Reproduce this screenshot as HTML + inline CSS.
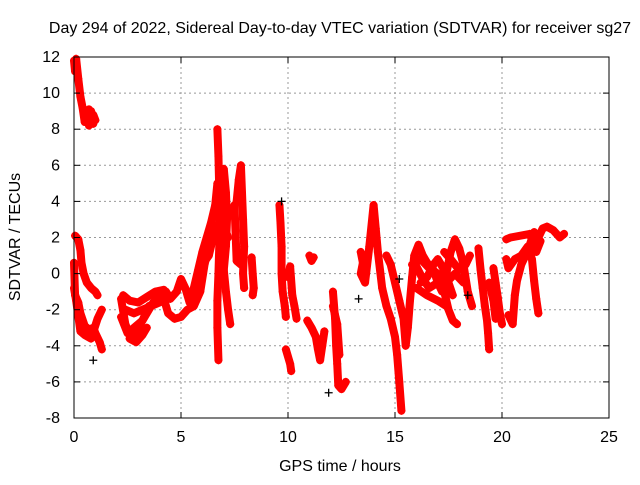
<!DOCTYPE html>
<html><head><meta charset="utf-8"><style>
body{margin:0;background:#fff}
svg text{font-family:"Liberation Sans",sans-serif;font-size:16px;fill:#000}
</style></head><body>
<svg id="c" width="640" height="480">
<text x="340" y="33" text-anchor="middle">Day 294 of 2022, Sidereal Day-to-day VTEC variation (SDTVAR) for receiver sg27</text>
<text x="340" y="471" text-anchor="middle">GPS time / hours</text>
<text transform="translate(20,237) rotate(-90)" text-anchor="middle">SDTVAR / TECUs</text>
<g id="grid"></g><g id="marks"></g><g id="axes"></g>
</svg>
<script>
const xTicks=[0,5,10,15,20,25];
const yTicks=[12,10,8,6,4,2,0,-2,-4,-6,-8];
// each track: list of [hours, TECU] samples
const track1=[[0,11.8],[0.05,11.2],[0.1,11.9],[0.2,10.8],[0.3,9.8],[0.4,9.2],[0.5,8.4],[0.6,8.8],[0.7,9.1],[0.8,8.6],[0.9,8.8],[1.0,8.5]];
const track2=[[0.05,2.1],[0.2,1.9],[0.3,1.3],[0.35,0.6],[0.45,0],[0.6,-0.5],[0.8,-0.8],[1.0,-1.0],[1.1,-1.2]];
const track3=[[0,0.6],[0.05,-1.2],[0.2,-1.6],[0.3,-2.2],[0.5,-2.9],[0.7,-3.1],[0.9,-3.0],[1.0,-3.3],[1.2,-3.8],[1.3,-4.2]];
const track4=[[0,-0.8],[0.1,-1.5],[0.3,-3.2],[0.5,-3.4],[0.8,-3.6],[1.1,-2.5],[1.3,-2.0]];
const track5=[[2.2,-1.4],[2.4,-2.8],[2.6,-3.4],[2.9,-3.5],[3.1,-2.8],[3.4,-2.2],[3.7,-1.6],[4.0,-1.2],[4.3,-1.0],[4.5,-1.4],[4.8,-1.0],[5.0,-0.3],[5.2,-0.8],[5.4,-1.6],[5.6,-0.8],[5.8,0.2],[6.0,1.2],[6.2,2.0],[6.4,2.8],[6.6,3.8],[6.7,5.0]];
const track6=[[2.2,-2.4],[2.5,-3.3],[2.8,-3.0],[3.2,-2.6],[3.5,-1.8],[3.9,-1.6],[4.2,-1.4],[4.4,-2.2],[4.7,-2.5],[5.0,-2.4],[5.3,-2.0],[5.6,-1.8],[5.9,-1.0],[6.1,0.5],[6.3,1.5],[6.5,2.5]];
const track7=[[6.7,8.0],[6.75,6.5],[6.8,4.0],[6.8,2.0],[6.75,0],[6.7,-1.5],[6.7,-3.0],[6.75,-4.8]];
const track8=[[7.0,5.8],[7.1,4.5],[7.15,3.0],[7.1,1.5],[7.0,0.2],[7.1,-1.0],[7.2,-2.0],[7.3,-2.8]];
const track9=[[7.6,4.0],[7.7,5.2],[7.8,6.0],[7.85,4.5],[7.9,3.0],[7.95,1.5],[7.9,0],[7.95,-0.8]];
const track10=[[7.3,3.2],[7.5,3.8],[7.6,0.7],[7.8,0.5]];
const track11=[[8.3,0.9],[8.35,0],[8.4,-0.8],[8.35,-1.2]];
const track12=[[9.6,3.8],[9.65,2.8],[9.7,1.5],[9.7,0],[9.75,-1.0],[9.85,-1.8],[9.9,-2.4]];
const track13=[[10.0,-0.2],[10.1,0.4],[10.2,-1.2],[10.3,-1.8],[10.4,-2.5]];
const track14=[[9.9,-4.2],[10.0,-4.6],[10.1,-5.0],[10.15,-5.4]];
const track15=[[11.0,1.0],[11.1,0.7],[11.2,0.9]];
const track16=[[10.9,-2.6],[11.1,-3.0],[11.3,-3.5],[11.4,-4.2],[11.5,-4.8],[11.6,-4.0],[11.7,-3.2]];
const track17=[[12.1,-1.0],[12.2,-2.5],[12.25,-4.0],[12.3,-5.0],[12.35,-6.2],[12.5,-6.4],[12.7,-6.0]];
const track18=[[12.1,-1.8],[12.3,-2.8],[12.4,-4.5]];
const track19=[[13.4,1.2],[13.5,0.6],[13.4,0],[13.6,-0.5],[13.8,1.5],[14.0,3.8],[14.1,2.5],[14.2,1.2],[14.3,0.2],[14.4,-0.8],[14.6,-1.8],[14.8,-2.5],[15.0,-3.5],[15.1,-4.5],[15.2,-6.0],[15.3,-7.6]];
const track20=[[14.6,1.0],[14.8,0.5],[15.0,-0.5],[15.2,-1.5],[15.4,-2.5],[15.5,-4.0],[15.6,-3.0],[15.7,-1.5],[15.8,-0.2],[15.9,1.0],[16.1,1.6],[16.3,1.0],[16.5,0.6],[16.8,0.2],[17.0,-0.5],[17.2,-1.0],[17.4,0],[17.6,1.2],[17.8,1.9],[18.0,1.4],[18.2,0.5],[18.4,-1.0],[18.6,-1.8]];
const track21=[[16.0,0.4],[16.3,-0.3],[16.6,-0.8],[17.0,-0.5],[17.3,-1.0],[17.5,-2.0],[17.7,-2.6],[17.9,-2.8]];
const track22=[[16.2,-0.5],[16.5,-0.2],[16.8,0.5],[17.0,0.8],[17.3,0.2],[17.5,-0.5],[17.7,-1.2]];
const track23=[[18.9,1.4],[19.0,0.2],[19.1,-0.8],[19.2,-1.8],[19.3,-2.6],[19.35,-3.3],[19.4,-4.2]];
const track24=[[19.6,0.3],[19.7,-0.5],[19.8,-1.3],[19.9,-2.2],[20.0,-2.8]];
const track25=[[20.3,-2.3],[20.5,-2.8],[20.6,-1.2],[20.7,-0.4],[20.9,0.5],[21.1,1.0],[21.3,1.6],[21.5,2.3],[21.7,2.0],[21.9,2.5],[22.1,2.6],[22.4,2.4],[22.7,2.0],[22.9,2.2]];
const track26=[[20.2,0.8],[20.3,0.3],[20.6,0.8],[20.9,1.0],[21.2,1.5],[21.4,0.8],[21.5,-0.4],[21.6,-1.4],[21.7,-2.2]];
const track27=[[20.2,1.9],[20.4,2.0],[21.3,2.2],[21.6,1.2],[21.8,1.8]];
const track28=[[19.4,-0.5],[19.6,-1.5],[19.7,-2.5]];
const track29=[[2.3,-1.2],[2.6,-1.5],[3.0,-1.6],[3.4,-1.3],[3.8,-1.0],[4.2,-0.9]];
const track30=[[2.4,-2.0],[2.8,-2.2],[3.2,-2.0],[3.6,-1.8],[4.0,-1.6]];
const track31=[[2.6,-3.6],[2.9,-3.8],[3.2,-3.4],[3.4,-3.0]];
const track32=[[15.8,0.5],[16.2,0.8],[16.6,0.3],[17.0,0],[17.4,-0.5],[17.8,0],[18.2,-0.5]];
const track33=[[16.0,-0.8],[16.5,-1.2],[17.0,-1.5],[17.4,-1.8]];
const track34=[[17.3,1.2],[17.6,0.8],[18.0,0.2],[18.3,0.5],[18.5,1.0]];
const track35=[[6.0,0.5],[6.3,1.0],[6.6,2.5],[6.9,3.0],[7.2,2.0]];
const track36=[[0.7,8.2],[0.8,9.0],[0.9,8.3]];
const tracks=[track1,track2,track3,track4,track5,track6,track7,track8,track9,track10,track11,track12,track13,track14,track15,track16,track17,track18,track19,track20,track21,track22,track23,track24,track25,track26,track27,track28,track29,track30,track31,track32,track33,track34,track35,track36];
const blackPts=[[0.9,-4.8],[9.7,4.0],[11.9,-6.6],[13.3,-1.4],[15.2,-0.3],[18.4,-1.2]];

const L=74,R=609,T=57,B=418;
const X=t=>L+(t-0)/25*(R-L);
const Y=v=>T+(12-v)/20*(B-T);
const NS="http://www.w3.org/2000/svg";
const g=document.getElementById('grid'),m=document.getElementById('marks'),a=document.getElementById('axes');
function mk(tag,at,p){const e=document.createElementNS(NS,tag);for(const k in at)e.setAttribute(k,at[k]);p.appendChild(e);return e;}
xTicks.forEach(t=>{
 if(t>0&&t<25){const l=mk('line',{x1:X(t),x2:X(t),y1:T,y2:B,stroke:'#999','stroke-dasharray':'2,3'},g);
 
 }
 mk('line',{x1:X(t),x2:X(t),y1:B,y2:B-6,stroke:'#000'},a);
 mk('line',{x1:X(t),x2:X(t),y1:T,y2:T+6,stroke:'#000'},a);
 const tx=mk('text',{x:X(t),y:B+24,'text-anchor':'middle'},a);tx.textContent=t;
 
 
});
yTicks.forEach(v=>{
 if(v<12&&v>-8){const l=mk('line',{x1:L,x2:R,y1:Y(v),y2:Y(v),stroke:'#999','stroke-dasharray':'2,3'},g);
 
 }
 mk('line',{x1:L,x2:L+6,y1:Y(v),y2:Y(v),stroke:'#000'},a);
 mk('line',{x1:R,x2:R-6,y1:Y(v),y2:Y(v),stroke:'#000'},a);
 const tx=mk('text',{x:L-14,y:Y(v)+5,'text-anchor':'end'},a);tx.textContent=v;
 
 
});
const fr=mk('rect',{x:L,y:T,width:R-L,height:B-T,fill:'none',stroke:'#000'},a);


function plus(t,v,col,p){
 const x=X(t),y=Y(v);
 return mk('path',{d:`M${x-4},${y}h8M${x},${y-4}v8`,stroke:col,'stroke-width':1.3,fill:'none'},p);
}
tracks.forEach(tr=>{
 const grp=mk('g',{},m);
 
 
 mk('polyline',{points:tr.map(p=>X(p[0])+','+Y(p[1])).join(' '),fill:'none',stroke:'#f00','stroke-width':8,'stroke-linejoin':'round','stroke-linecap':'round'},grp);
 tr.forEach(p=>{const e=plus(p[0],p[1],'#f00',grp);
 
 });
});
blackPts.forEach(p=>{const e=plus(p[0],p[1],'#000',m);
 
 });
</script>
</body></html>
